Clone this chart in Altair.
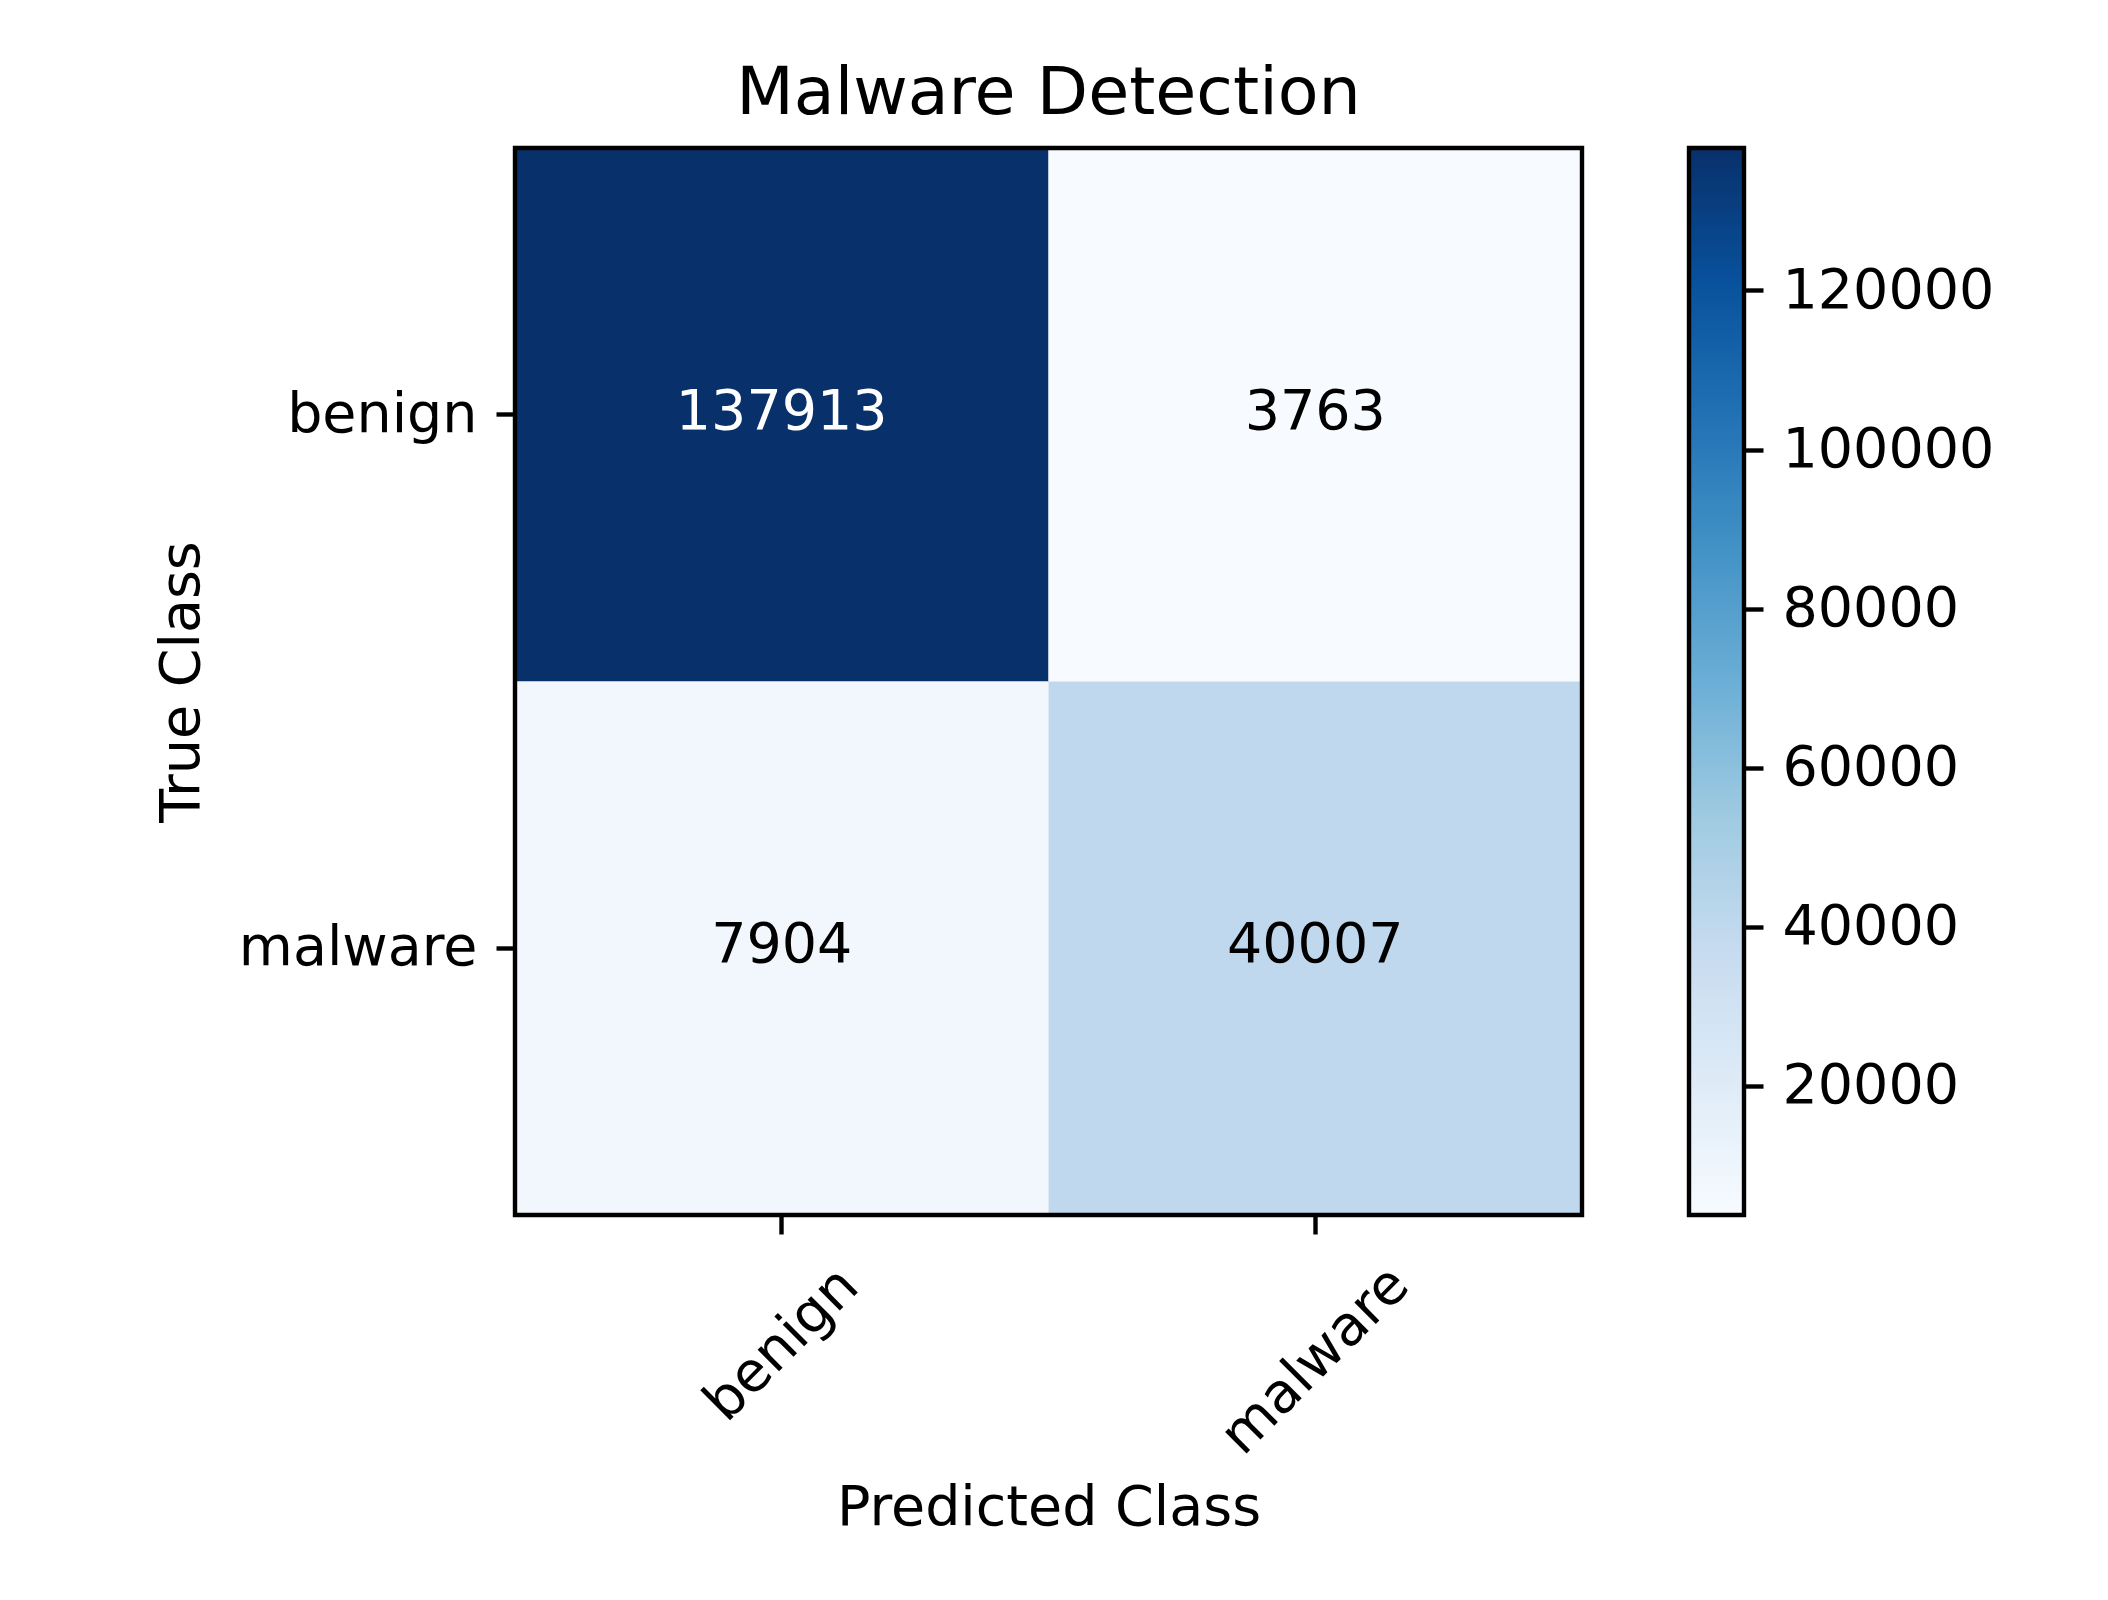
import altair as alt
import pandas as pd

classes = ["benign", "malware"]
true_class = ["benign", "benign", "malware", "malware"]
pred_class = ["benign", "malware", "benign", "malware"]
counts = [137913, 3763, 7904, 40007]
cbar_ticks = [20000, 40000, 60000, 80000, 100000, 120000]
blues = ["#f7fbff", "#deebf7", "#c6dbef", "#9ecae1", "#6baed6",
         "#4292c6", "#2171b5", "#08519c", "#08306b"]

vmin, vmax = min(counts), max(counts)
domain = [vmin + (vmax - vmin) * i / 8 for i in range(9)]
thresh = vmax / 2

df = pd.DataFrame({"true": true_class, "pred": pred_class, "count": counts})
cb_df = pd.DataFrame({"lo": [vmin], "hi": [vmax]})

FONT = "DejaVu Sans"
FS = 55.5
W = 1067
TW = 4.4

xaxis = alt.Axis(
    title="Predicted Class",
    labelAngle=-45,
    labelAlign="center",
    labelBaseline="middle",
    labelPadding={"condition": {"test": "datum.value === 'malware'", "value": 126}, "value": 110},
    labelOverlap=False,
    labelLimit=0,
    titleBaseline="alphabetic",
    titleY=309,
)
yaxis = alt.Axis(
    title="True Class",
    labelBaseline="middle",
    labelPadding=19,
    labelLimit=0,
    titleBaseline="alphabetic",
    titleX=-317,
)

base = alt.Chart(df).encode(
    x=alt.X("pred:N", sort=classes,
            scale=alt.Scale(domain=classes, paddingInner=0, paddingOuter=0),
            axis=xaxis),
    y=alt.Y("true:N", sort=classes,
            scale=alt.Scale(domain=classes, paddingInner=0, paddingOuter=0),
            axis=yaxis),
)

rect = base.mark_rect().encode(
    color=alt.Color("count:Q",
                    scale=alt.Scale(domain=domain, range=blues, interpolate="rgb"),
                    legend=None)
)

text = base.mark_text(font=FONT, fontSize=FS, align="center", baseline="middle", dy=-3).encode(
    text=alt.Text("count:Q", format="d"),
    color=alt.condition(f"datum.count > {thresh}", alt.value("white"), alt.value("black")),
)

frame = alt.Chart(cb_df).mark_rect(filled=False, stroke="black", strokeWidth=TW).encode(
    x=alt.value(0), x2=alt.value(W), y=alt.value(0), y2=alt.value(W)
)

heat = alt.layer(rect, text, frame).properties(
    width=W, height=W,
    title=alt.TitleParams("Malware Detection", font=FONT, fontSize=66.7,
                          fontWeight="normal", color="black",
                          baseline="alphabetic", offset=-35, anchor="middle"),
)

grad = alt.LinearGradient(
    gradient="linear",
    stops=[alt.GradientStop(color=c, offset=i / 8) for i, c in enumerate(blues)],
    x1=0, x2=0, y1=1, y2=0,
)

cbar = alt.Chart(cb_df).mark_rect(fill=grad, stroke="black", strokeWidth=TW).encode(
    y=alt.Y("lo:Q", scale=alt.Scale(domain=[vmin, vmax], nice=False, zero=False),
            axis=alt.Axis(orient="right", values=cbar_ticks, format="d", title=None,
                          labelPadding=19, labelBaseline="middle", labelLimit=0)),
    y2="hi:Q",
    x=alt.value(0),
    x2=alt.value(55),
).properties(width=55, height=W)

chart = alt.hconcat(heat, cbar, spacing=101).configure_view(
    strokeWidth=0
).configure_axis(
    domain=False, grid=False,
    tickColor="black", tickWidth=TW, tickSize=19,
    labelFont=FONT, labelFontSize=FS, labelColor="black",
    titleFont=FONT, titleFontSize=FS, titleColor="black", titleFontWeight="normal",
).properties(
    padding={"left": 154, "top": 61, "right": 20, "bottom": 20},
    background="white",
)

chart.save("out.html", embed_options={"renderer": "svg", "actions": False})
